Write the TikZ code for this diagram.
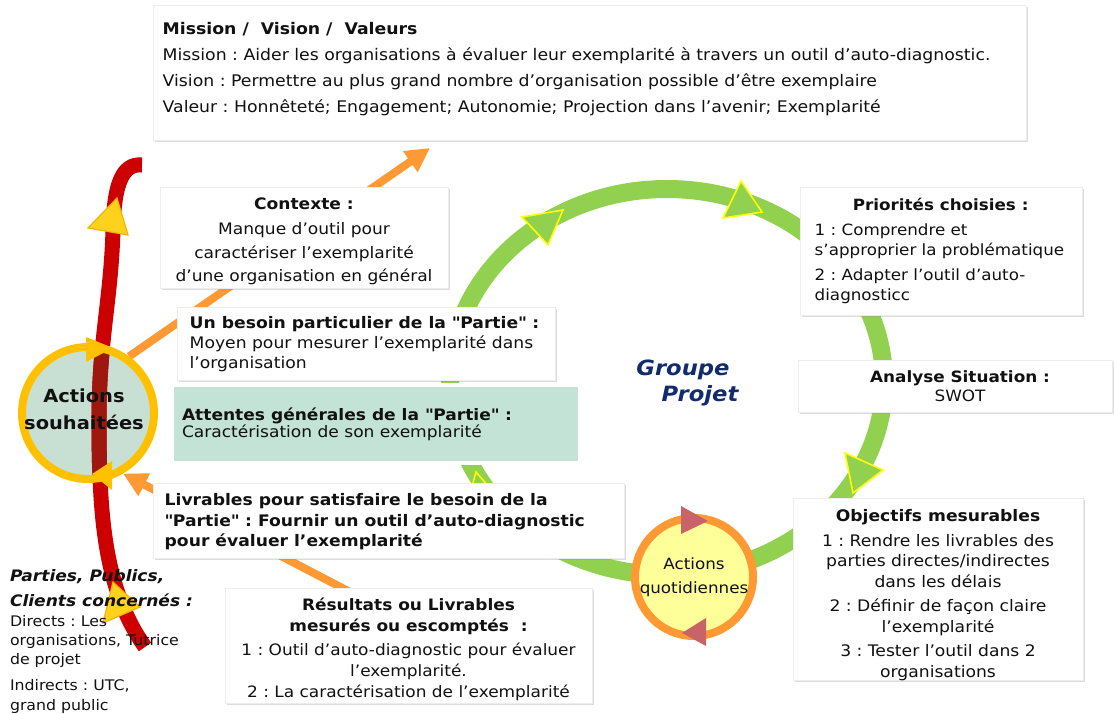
\documentclass[tikz,border=0pt]{standalone}
\usepackage{fontspec}
\setmainfont{DejaVu Sans}[FakeStretch=1.08]
\usetikzlibrary{arrows.meta,shadows,calc}
\frenchspacing

\definecolor{redroute}{HTML}{CC0000}
\definecolor{redinner}{HTML}{9E1810}
\definecolor{souhfill}{HTML}{C8E0D4}
\definecolor{souhring}{HTML}{FFC000}
\definecolor{markyellow}{HTML}{FFD21E}
\definecolor{markedge}{HTML}{F2B400}
\definecolor{feedorange}{HTML}{FF9933}
\definecolor{cyclegreen}{HTML}{92D050}
\definecolor{headedge}{HTML}{FFFF00}
\definecolor{quotfill}{HTML}{FFFF99}
\definecolor{quotring}{HTML}{FF9933}
\definecolor{quotmark}{HTML}{C86468}
\definecolor{mint}{HTML}{C2E3D5}
\definecolor{navy}{HTML}{112B6B}
\definecolor{ink}{HTML}{111111}

\newcommand{\fsz}[2]{\fontsize{#1}{#2}\selectfont}
\newcommand{\dq}{\textquotedbl}

\tikzset{
  panel/.style={fill=white, draw=black!7, line width=0.6pt, inner sep=0pt,
    drop shadow={shadow xshift=2.2pt, shadow yshift=-2.2pt, opacity=0.3, fill=black!45}},
  txt/.style={inner sep=0pt, outer sep=0pt, text=ink},
  cyclearc/.style={draw=cyclegreen, line width=18pt},
  cyclehead/.style={fill=cyclegreen, draw=headedge, line width=1.6pt, line join=miter},
  feed/.style={draw=feedorange, line width=8pt, -{Triangle[length=24pt,width=24pt]}},
  route/.style={draw=redroute, line width=15pt},
  routemark/.style={fill=markyellow, draw=markedge, line width=1.2pt, line join=miter},
}

\begin{document}
\begin{tikzpicture}[x=1pt,y=-1pt]
\useasboundingbox (0,0) rectangle (1114,713);

% project cycle
\draw[cyclearc] (667,382) ellipse [x radius=217, y radius=193];
\filldraw[cyclehead] (522,217) -- (563,210) -- (548,245) -- cycle;
\filldraw[cyclehead] (741,181) -- (762,212) -- (723,218) -- cycle;
\filldraw[cyclehead] (845,453) -- (883,470) -- (853,493) -- cycle;
\filldraw[cyclehead] (476,472) -- (500,500) -- (466,508) -- cycle;

% wished actions circle (fill only, ring comes later)
\node[circle, minimum size=132pt, inner sep=0pt, outer sep=4pt, fill=souhfill] (souh) at (88,413) {};

% feedback arrows
\coordinate (tipA) at (430,148);
\coordinate (tailB) at (350,592);
\draw[feed] (souh.54) -- (tipA);
\draw[feed] (tailB) -- (souh.-60);

% panels
\node[panel, minimum width=873pt, minimum height=135pt] (mvv) at (589.5,72.5) {};
\node[panel, minimum width=288pt, minimum height=101pt] (ctx) at (304,237.5) {};
\node[panel, minimum width=378pt, minimum height=73pt] (besoin) at (366,343.5) {};
\node[panel, fill=mint, draw=white, line width=4pt, minimum width=408pt, minimum height=78pt] (att) at (376,424) {};
\node[panel, minimum width=471pt, minimum height=75pt] (livr) at (388.5,520.5) {};
\node[panel, minimum width=367pt, minimum height=115pt] (result) at (408.5,645.5) {};
\node[panel, minimum width=282pt, minimum height=128pt] (prio) at (941,251) {};
\node[panel, minimum width=314pt, minimum height=52pt] (analyse) at (955,386) {};
\node[panel, minimum width=290pt, minimum height=182pt] (obj) at (938,589) {};

% red route through the wished actions
\draw[route] (142,165) .. controls (122,163) and (114,185) .. (113,230)
  .. controls (111,300) and (99,340) .. (99,420)
  .. controls (99,520) and (105,590) .. (145,647);
\begin{scope}
  \clip (88,413) circle [radius=66];
  \draw[route, draw=redinner] (142,165) .. controls (122,163) and (114,185) .. (113,230)
    .. controls (111,300) and (99,340) .. (99,420)
    .. controls (99,520) and (105,590) .. (145,647);
\end{scope}
\draw[draw=souhring, line width=8pt] (souh.center) circle [radius=66];
\fill[souhring] (86,337) -- (113,348) -- (86,362) -- cycle;
\fill[souhring] (92,474) -- (112,461) -- (112,490) -- cycle;
\filldraw[routemark] (117,198) -- (128,235) -- (88,228) -- cycle;
\filldraw[routemark] (113,582) -- (140,607) -- (103,623) -- cycle;

\node[txt, align=center, font=\fsz{18}{27}\bfseries] (souhlbl) at (84,409) {Actions\\souhaitées};

% daily actions
\node[circle, minimum size=118pt, inner sep=0pt, fill=quotfill, draw=quotring, line width=8pt,
  align=center, font=\fsz{15.5}{24}, text=ink] (quot) at (694,577) {Actions\\quotidiennes};
\fill[quotmark] (681,506) -- (708,521) -- (681,534) -- cycle;
\fill[quotmark] (706,618) -- (682,633) -- (706,646) -- cycle;

% group label
\node[txt, text=navy, font=\fsz{21}{24}\bfseries\itshape] (gp1) at (683,370) {Groupe};
\node[txt, text=navy, font=\fsz{21}{24}\bfseries\itshape] (gp2) at (700,396) {Projet};

% panel texts
\node[txt, anchor=north west, align=left, font=\fsz{16}{26}] (mvvtxt) at ([shift={(10,18)}]mvv.north west)
  {\textbf{Mission / \ Vision / \ Valeurs}\\
   Mission : Aider les organisations à évaluer leur exemplarité à travers un outil d’auto-diagnostic.\\
   Vision : Permettre au plus grand nombre d’organisation possible d’être exemplaire\\
   Valeur : Honnêteté; Engagement; Autonomie; Projection dans l’avenir; Exemplarité};

\node[txt, anchor=north, align=center, font=\fsz{15.8}{23.5}] (ctxtxt) at ([shift={(0,11)}]ctx.north)
  {\textbf{Contexte :}\\[2pt] Manque d’outil pour\\ caractériser l’exemplarité\\ d’une organisation en général};

\node[txt, anchor=north west, align=left, font=\fsz{15.9}{20}] (besointxt) at ([shift={(13,10)}]besoin.north west)
  {\textbf{Un besoin particulier de la \dq Partie\dq\ :}\\ Moyen pour mesurer l’exemplarité dans\\ l’organisation};

\node[txt, anchor=north west, align=left, font=\fsz{15.8}{17}] (atttxt) at ([shift={(12,25)}]att.north west)
  {\textbf{Attentes générales de la \dq Partie\dq\ :}\\ Caractérisation de son exemplarité};

\node[txt, anchor=north west, align=left, font=\fsz{15.9}{20.5}\bfseries] (livrtxt) at ([shift={(12,11)}]livr.north west)
  {Livrables pour satisfaire le besoin de la\\ \dq Partie\dq\ : Fournir un outil d’auto-diagnostic\\ pour évaluer l’exemplarité};

\node[txt, anchor=north, align=center, font=\fsz{15.7}{21}] (resulttxt) at ([shift={(0,10)}]result.north)
  {\textbf{Résultats ou Livrables}\\ \textbf{mesurés ou escomptés \ :}\\[3pt]
   1 : Outil d’auto-diagnostic pour évaluer\\ l’exemplarité.\\ 2 : La caractérisation de l’exemplarité};

\node[txt, anchor=north west, align=left, font=\fsz{15.5}{20}] (priotxt) at ([shift={(15,11)}]prio.north west)
  {\makebox[252pt]{\textbf{Priorités choisies :}}\\[5pt]
   1 : Comprendre et\\ s’approprier la problématique\\[5pt] 2 : Adapter l’outil d’auto-\\ diagnosticc};

\node[txt, anchor=north, align=center, font=\fsz{15.6}{19}] (analysetxt) at ([shift={(5,11)}]analyse.north)
  {\textbf{Analyse Situation :}\\ SWOT};

\node[txt, anchor=north, align=center, font=\fsz{15.9}{20.5}] (objtxt) at ([shift={(0,12)}]obj.north)
  {\textbf{Objectifs mesurables}\\[4pt] 1 : Rendre les livrables des\\ parties directes/indirectes\\ dans les délais\\[4pt]
   2 : Définir de façon claire\\ l’exemplarité\\[4pt] 3 : Tester l’outil dans 2\\ organisations};

% stakeholders
\node[txt, anchor=north west, align=left, font=\fsz{15.8}{25}\bfseries\itshape] (parties) at (10,569)
  {Parties, Publics,\\ Clients concernés :};
\node[txt, anchor=north west, align=left, font=\fsz{14.6}{19}] (directs) at (10,615)
  {Directs : Les\\ organisations, Tutrice\\ de projet};
\node[txt, anchor=north west, align=left, font=\fsz{14.6}{20}] (indirects) at (10,679)
  {Indirects : UTC,\\ grand public};
\end{tikzpicture}
\end{document}
